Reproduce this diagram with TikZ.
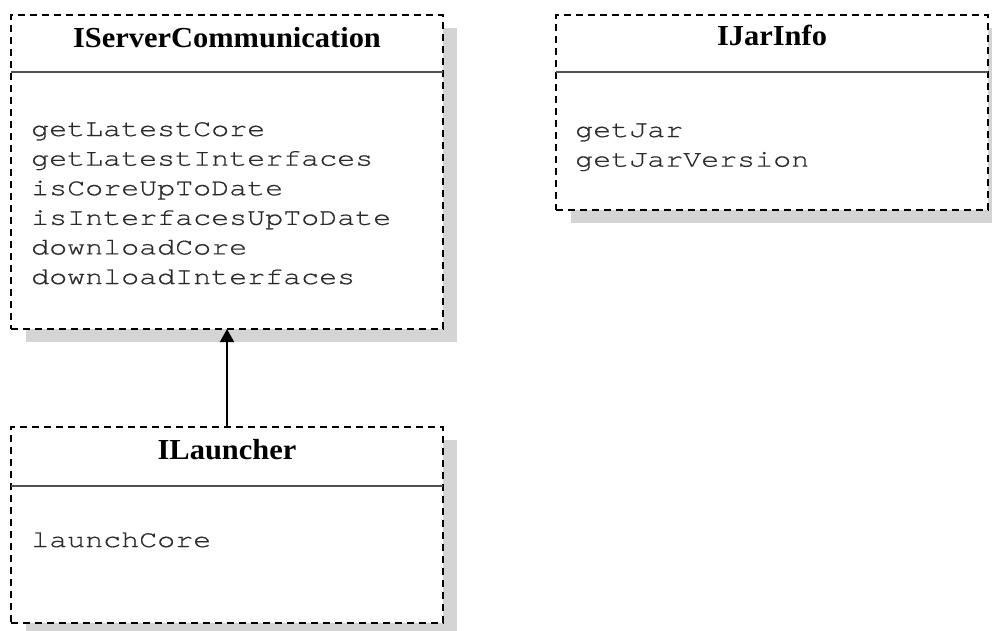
\documentclass[tikz,border=0pt]{standalone}
\usepackage{fontspec}
\usetikzlibrary{arrows.meta}
\newfontfamily\umltitlefont{Liberation Serif}[FakeStretch=1.05]
\newfontfamily\umlmethodfont{TeX Gyre Cursor}[FakeStretch=1.25, FakeBold=0.6]
\definecolor{shadowgray}{HTML}{D4D4D4}
\definecolor{methodgray}{HTML}{2A2A2A}
\definecolor{rulegray}{HTML}{505050}
\tikzset{
  umlbox/.style={draw=black, fill=white, dash pattern=on 7pt off 5pt,
    line width=1.3pt, inner sep=0pt, outer sep=0pt, anchor=north west},
  boxshadow/.style={fill=shadowgray, draw=none},
  divider/.style={draw=rulegray, line width=1.5pt},
  classname/.style={font=\umltitlefont\bfseries\fontsize{29}{30}\selectfont,
    anchor=base, inner sep=0pt, text=black},
  method/.style={font=\umlmethodfont\fontsize{24}{26}\selectfont,
    anchor=base west, inner sep=0pt, text=methodgray},
  realizes/.style={-{Triangle[width=14pt,length=13pt]}, line width=1.5pt, black}
}
\begin{document}
\begin{tikzpicture}[x=1pt, y=-1pt]
  \useasboundingbox (0,0) rectangle (992,630);

  % drop shadows behind the three interface boxes
  \fill[boxshadow] (26,28) rectangle (457,342);
  \fill[boxshadow] (571,28) rectangle (1003,223);
  \fill[boxshadow] (26,440) rectangle (457,636);

  % IServerCommunication
  \node[umlbox, minimum width=432pt, minimum height=314pt] (server) at (11,15) {};
  \draw[divider] ([yshift=-57pt]server.north west) -- ([yshift=-57pt]server.north east);
  \node[classname] (servertitle) at (227,47) {IServerCommunication};
  \foreach \m [count=\i from 0] in {getLatestCore, getLatestInterfaces,
      isCoreUpToDate, isInterfacesUpToDate, downloadCore, downloadInterfaces}
    \node[method] (serverm\i) at (31,136+29.6*\i) {\m};

  % IJarInfo
  \node[umlbox, minimum width=432pt, minimum height=195pt] (jarinfo) at (556,15) {};
  \draw[divider] ([yshift=-57pt]jarinfo.north west) -- ([yshift=-57pt]jarinfo.north east);
  \node[classname] (jartitle) at (772,45) {IJarInfo};
  \node[method] (jarm0) at (575,137) {getJar};
  \node[method] (jarm1) at (575,166.6) {getJarVersion};

  % ILauncher
  \node[umlbox, minimum width=432pt, minimum height=196pt] (launcher) at (11,427) {};
  \draw[divider] ([yshift=-59pt]launcher.north west) -- ([yshift=-59pt]launcher.north east);
  \node[classname] (launchertitle) at (227,459) {ILauncher};
  \node[method] (launcherm0) at (31,547) {launchCore};

  % ILauncher extends IServerCommunication
  \draw[realizes] (launcher.north) -- (server.south);
\end{tikzpicture}
\end{document}
